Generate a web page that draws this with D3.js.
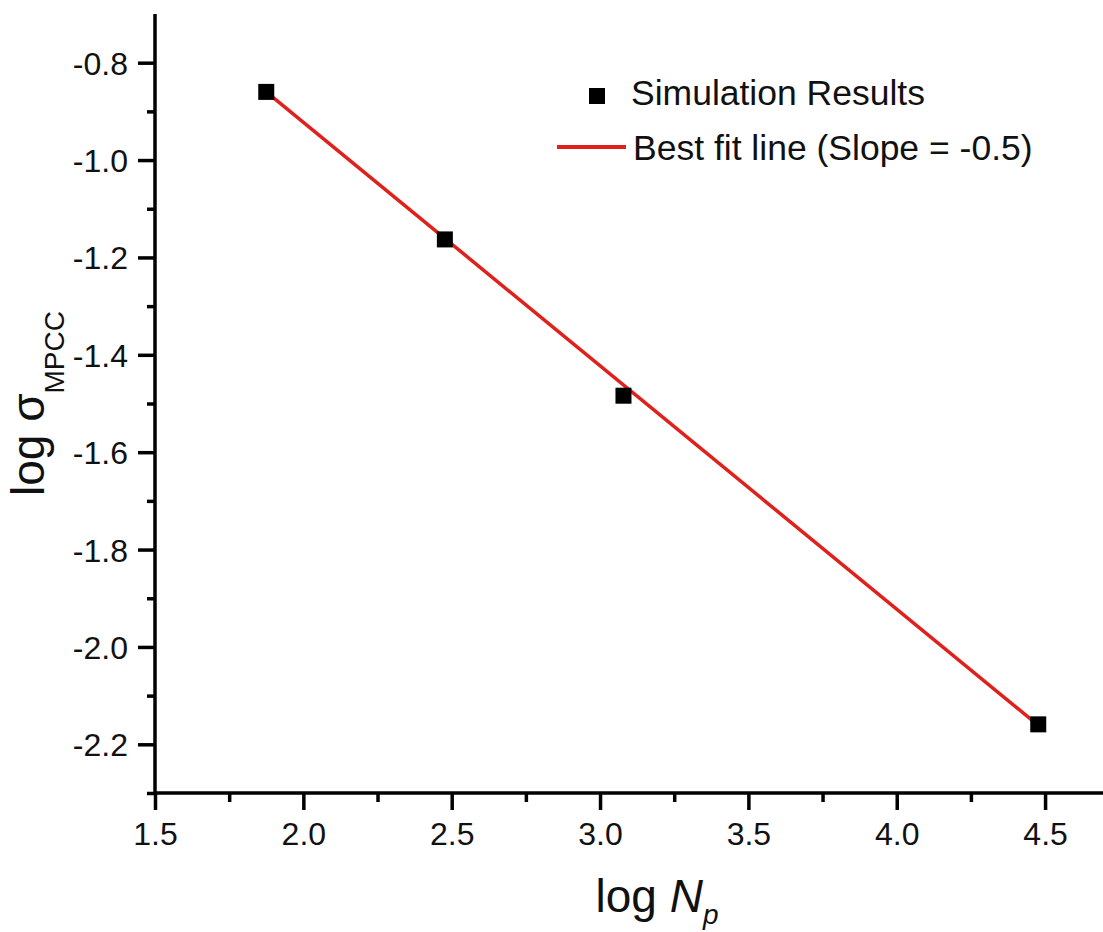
<!DOCTYPE html>
<html>
<head>
<meta charset="utf-8">
<script src="https://d3js.org/d3.v7.min.js"></script>
<style>
  body { margin: 0; background: #fff; }
  svg { display: block; font-family: "Liberation Sans", Arial, sans-serif; }
  .axis text { font-size: 32px; fill: #111; }
  .axis line, .axis path { stroke: #000; stroke-width: 3.5px; }
</style>
</head>
<body>
<div id="chart"></div>
<script>
// data
var logNp    = [1.875, 2.477, 3.079, 4.477];
var logSigma = [-0.860, -1.163, -1.484, -2.159];
// best fit line end points (slope = -0.5)
var fitX = [1.875, 4.477];
var fitY = [-0.860, -2.161];

var xTicks = [1.5, 2.0, 2.5, 3.0, 3.5, 4.0, 4.5];
var xMinor = [1.75, 2.25, 2.75, 3.25, 3.75, 4.25, 4.75];
var yTicks = [-0.8, -1.0, -1.2, -1.4, -1.6, -1.8, -2.0, -2.2];
var yMinor = [-0.9, -1.1, -1.3, -1.5, -1.7, -1.9, -2.1, -2.3];

var width = 1103, height = 932;
var plotLeft = 155, plotTop = 14, plotBottom = 793;

// plain hyphen for negatives, like the original
var fmt = function(d) { return d.toFixed(1); };

var svg = d3.select("#chart").append("svg")
    .attr("width", width)
    .attr("height", height);

var x = d3.scaleLinear().domain([1.5, 4.884]).range([plotLeft, 1159]);
var y = d3.scaleLinear().domain([-2.3, -0.7]).range([plotBottom, plotTop]);

// minor ticks
svg.append("g").attr("class", "axis")
    .attr("transform", "translate(0," + plotBottom + ")")
    .call(d3.axisBottom(x).tickValues(xMinor).tickSize(9).tickSizeOuter(0).tickFormat(""))
    .select(".domain").remove();
svg.append("g").attr("class", "axis")
    .attr("transform", "translate(" + plotLeft + ",0)")
    .call(d3.axisLeft(y).tickValues(yMinor).tickSize(8).tickSizeOuter(0).tickFormat(""))
    .select(".domain").remove();

// major ticks
var gx = svg.append("g").attr("class", "axis")
    .attr("transform", "translate(0," + plotBottom + ")")
    .call(d3.axisBottom(x).tickValues(xTicks).tickSize(17).tickPadding(12)
      .tickSizeOuter(0).tickFormat(fmt));
gx.select(".domain").remove();

var gy = svg.append("g").attr("class", "axis")
    .attr("transform", "translate(" + plotLeft + ",0)")
    .call(d3.axisLeft(y).tickValues(yTicks).tickSize(17).tickPadding(10)
      .tickSizeOuter(0).tickFormat(fmt));
gy.select(".domain").remove();
gy.selectAll("text").attr("dy", "0.36em");

// axis lines
svg.append("line")
    .attr("x1", plotLeft).attr("x2", width)
    .attr("y1", plotBottom).attr("y2", plotBottom)
    .attr("stroke", "#000").attr("stroke-width", 3.5);
svg.append("line")
    .attr("x1", plotLeft).attr("x2", plotLeft)
    .attr("y1", plotTop).attr("y2", plotBottom + 1.75)
    .attr("stroke", "#000").attr("stroke-width", 3.5);

// fit line
var line = d3.line()
    .x(function(d, i) { return x(fitX[i]); })
    .y(function(d) { return y(d); });
svg.append("path")
    .datum(fitY)
    .attr("d", line)
    .attr("fill", "none")
    .attr("stroke", "#e0201b")
    .attr("stroke-width", 3.5);

// points
var s = 16;
svg.selectAll(".pt")
    .data(logNp)
  .enter().append("rect")
    .attr("class", "pt")
    .attr("x", function(d) { return x(d) - s / 2; })
    .attr("y", function(d, i) { return y(logSigma[i]) - s / 2; })
    .attr("width", s).attr("height", s)
    .attr("fill", "#000");

// legend
svg.append("rect")
    .attr("x", 597 - 8).attr("y", 96 - 8)
    .attr("width", 16).attr("height", 16)
    .attr("fill", "#000");
svg.append("text")
    .attr("x", 631).attr("y", 105)
    .attr("font-size", 35.5).attr("fill", "#111")
    .text("Simulation Results");
svg.append("line")
    .attr("x1", 557).attr("x2", 626)
    .attr("y1", 147).attr("y2", 147)
    .attr("stroke", "#e0201b").attr("stroke-width", 4);
svg.append("text")
    .attr("x", 633).attr("y", 160)
    .attr("font-size", 35.5).attr("fill", "#111")
    .text("Best fit line (Slope = -0.5)");

// axis titles
var xt = svg.append("text")
    .attr("x", (x.range()[0] + x.range()[1]) / 2)
    .attr("y", 912)
    .attr("text-anchor", "middle")
    .attr("font-size", 46).attr("fill", "#111");
xt.append("tspan").text("log ");
xt.append("tspan").attr("font-style", "italic").text("N");
xt.append("tspan").attr("font-style", "italic").attr("font-size", 28)
    .attr("dy", 12).text("p");

var yt = svg.append("text")
    .attr("transform", "translate(44," + (plotTop + plotBottom) / 2 + ") rotate(-90)")
    .attr("text-anchor", "middle")
    .attr("font-size", 46).attr("fill", "#111");
yt.append("tspan").text("log σ");
yt.append("tspan").attr("font-size", 28).attr("dy", 20).text("MPCC");
</script>
</body>
</html>
